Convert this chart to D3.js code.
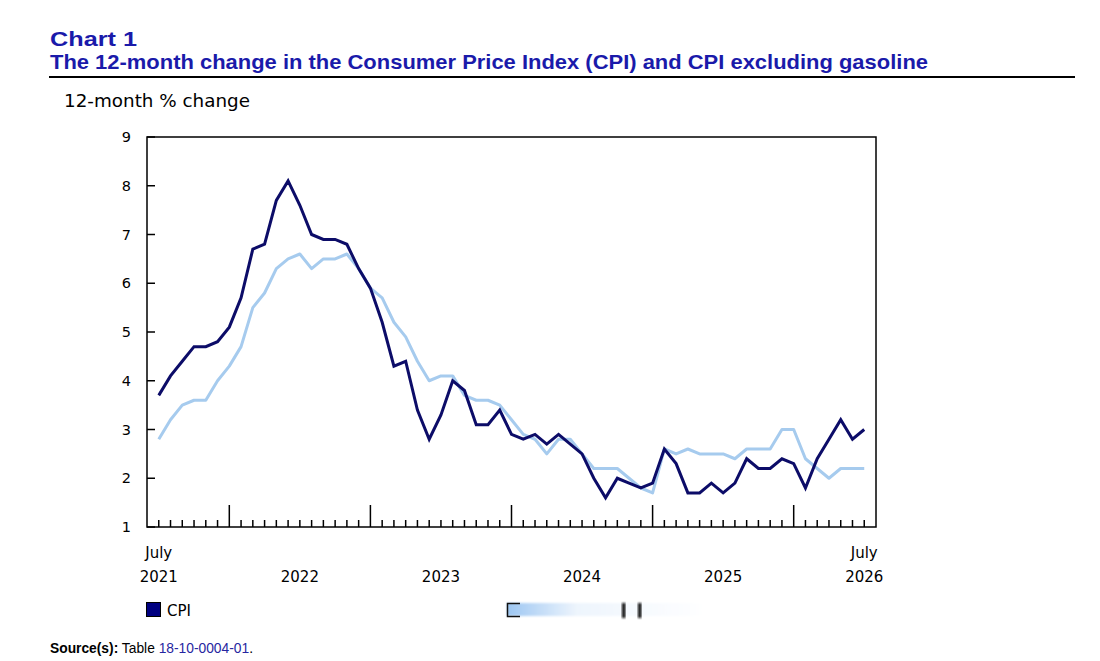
<!DOCTYPE html>
<html>
<head>
<meta charset="utf-8">
<script src="https://cdn.jsdelivr.net/npm/d3@7/dist/d3.min.js"></script>
<style>
  body { margin: 0; background: #fff; }
  svg { display: block; }
</style>
</head>
<body>
<svg id="chart" width="1100" height="661"></svg>
<script>
// 12-month % change, July 2021 to July 2026
const cpi = [
    3.7, 4.1, 4.4, 4.7, 4.7, 4.8,
    5.1, 5.7, 6.7, 6.8, 7.7, 8.1, 7.6, 7.0, 6.9, 6.9, 6.8, 6.3,
    5.9, 5.2, 4.3, 4.4, 3.4, 2.8, 3.3, 4.0, 3.8, 3.1, 3.1, 3.4,
    2.9, 2.8, 2.9, 2.7, 2.9, 2.7, 2.5, 2.0, 1.6, 2.0, 1.9, 1.8,
    1.9, 2.6, 2.3, 1.7, 1.7, 1.9, 1.7, 1.9, 2.4, 2.2, 2.2, 2.4,
    2.3, 1.8, 2.4, 2.8, 3.2, 2.8, 3.0
];
const cpiExGas = [
    2.8, 3.2, 3.5, 3.6, 3.6, 4.0,
    4.3, 4.7, 5.5, 5.8, 6.3, 6.5, 6.6, 6.3, 6.5, 6.5, 6.6, 6.3,
    5.9, 5.7, 5.2, 4.9, 4.4, 4.0, 4.1, 4.1, 3.7, 3.6, 3.6, 3.5,
    3.2, 2.9, 2.8, 2.5, 2.8, 2.8, 2.5, 2.2, 2.2, 2.2, 2.0, 1.8,
    1.7, 2.6, 2.5, 2.6, 2.5, 2.5, 2.5, 2.4, 2.6, 2.6, 2.6, 3.0,
    3.0, 2.4, 2.2, 2.0, 2.2, 2.2, 2.2
];
const months = d3.timeMonth.range(new Date(2021, 6, 1), new Date(2026, 7, 1));
const yTicks = [1, 2, 3, 4, 5, 6, 7, 8, 9];

const titleLines = ["Chart 1", "The 12-month change in the Consumer Price Index (CPI) and CPI excluding gasoline"];
const titleWidths = [87, 878];
const yTitle = "12-month % change";

const navy = "#0c0c68";
const light = "#a6cbee";
const titleBlue = "#1a1aaa";

const svg = d3.select("#chart");

// title block
svg.selectAll(".title")
    .data(titleLines)
    .join("text")
    .attr("class", "title")
    .attr("x", 50)
    .attr("y", (d, i) => 46 + i * 23)
    .attr("font-family", "Liberation Sans, Arial, sans-serif")
    .attr("font-weight", "bold")
    .attr("font-size", 21)
    .attr("fill", titleBlue)
    .attr("textLength", (d, i) => titleWidths[i])
    .attr("lengthAdjust", "spacingAndGlyphs")
    .text(d => d);

svg.append("line")
    .attr("x1", 49).attr("x2", 1075)
    .attr("y1", 77).attr("y2", 77)
    .attr("stroke", "#000").attr("stroke-width", 2);

svg.append("text")
    .attr("x", 64).attr("y", 107)
    .attr("font-family", "DejaVu Sans, Verdana, sans-serif")
    .attr("font-size", 17)
    .attr("textLength", 186)
    .attr("lengthAdjust", "spacingAndGlyphs")
    .attr("fill", "#000")
    .text(yTitle);

// plot area
const plot = { left: 147, right: 876, top: 137, bottom: 527 };

const x = d3.scaleLinear().domain([-1, months.length]).range([plot.left, plot.right]);
const y = d3.scaleLinear().domain([1, 9]).range([plot.bottom, plot.top]);

const axisFont = "DejaVu Sans, Verdana, sans-serif";

// y ticks (inward) + labels
svg.selectAll(".ytick")
    .data(yTicks)
    .join("line")
    .attr("class", "ytick")
    .attr("x1", plot.left).attr("x2", plot.left + 8)
    .attr("y1", d => y(d)).attr("y2", d => y(d))
    .attr("stroke", "#000").attr("stroke-width", 1.5);

svg.selectAll(".ylab")
    .data(yTicks)
    .join("text")
    .attr("class", "ylab")
    .attr("x", 131)
    .attr("y", d => y(d) + 5)
    .attr("text-anchor", "end")
    .attr("font-family", axisFont)
    .attr("font-size", 14.5)
    .text(d => d);

// x ticks: minor per month, major at January
svg.selectAll(".xtick")
    .data(months)
    .join("line")
    .attr("class", "xtick")
    .attr("x1", (d, i) => x(i)).attr("x2", (d, i) => x(i))
    .attr("y1", plot.bottom)
    .attr("y2", d => plot.bottom - (d.getMonth() === 0 ? 22 : 7))
    .attr("stroke", "#000").attr("stroke-width", 1.5);

const julys = months.map((d, i) => ({ d, i })).filter(o => o.d.getMonth() === 6);

svg.selectAll(".xyear")
    .data(julys)
    .join("text")
    .attr("class", "xyear")
    .attr("x", o => x(o.i))
    .attr("y", 582)
    .attr("text-anchor", "middle")
    .attr("font-family", axisFont)
    .attr("font-size", 15)
    .text(o => o.d.getFullYear());

svg.selectAll(".xmonth")
    .data([julys[0], julys[julys.length - 1]])
    .join("text")
    .attr("class", "xmonth")
    .attr("x", o => x(o.i))
    .attr("y", 558)
    .attr("text-anchor", "middle")
    .attr("font-family", axisFont)
    .attr("font-size", 15)
    .text("July");

// frame
svg.append("rect")
    .attr("x", plot.left).attr("y", plot.top)
    .attr("width", plot.right - plot.left)
    .attr("height", plot.bottom - plot.top)
    .attr("fill", "none")
    .attr("stroke", "#000").attr("stroke-width", 1.5);

// lines
const line = d3.line().x((d, i) => x(i)).y(d => y(d));

svg.append("path")
    .datum(cpiExGas)
    .attr("fill", "none")
    .attr("stroke", light)
    .attr("stroke-width", 3)
    .attr("stroke-linejoin", "round")
    .attr("d", line);

svg.append("path")
    .datum(cpi)
    .attr("fill", "none")
    .attr("stroke", navy)
    .attr("stroke-width", 3)
    .attr("stroke-linejoin", "miter")
    .attr("d", line);

// legend
svg.append("rect")
    .attr("x", 146.5).attr("y", 602.5)
    .attr("width", 14).attr("height", 14)
    .attr("fill", "#000080")
    .attr("stroke", "#000").attr("stroke-width", 1);

svg.append("text")
    .attr("x", 167).attr("y", 616)
    .attr("font-family", axisFont)
    .attr("font-size", 15)
    .text("CPI");

// second legend entry (as it appears, smeared)
const defs = svg.append("defs");
const grad = defs.append("linearGradient").attr("id", "fade");
grad.append("stop").attr("offset", "0%").attr("stop-color", "#9cc6f2");
grad.append("stop").attr("offset", "35%").attr("stop-color", "#eef5fd");
grad.append("stop").attr("offset", "100%").attr("stop-color", "#ffffff");
defs.append("filter").attr("id", "blur")
    .append("feGaussianBlur").attr("stdDeviation", 1.2);

svg.append("rect")
    .attr("x", 507).attr("y", 603)
    .attr("width", 200).attr("height", 13)
    .attr("fill", "url(#fade)")
    .attr("filter", "url(#blur)");

svg.append("path")
    .attr("d", "M520,603.5 H507.5 V616.5 H520")
    .attr("fill", "none")
    .attr("stroke", "#111").attr("stroke-width", 1.5);

svg.selectAll(".smear")
    .data([622, 638])
    .join("rect")
    .attr("class", "smear")
    .attr("x", d => d).attr("y", 603)
    .attr("width", 3.5).attr("height", 15)
    .attr("fill", "#111")
    .attr("filter", "url(#blur)");

// source
const src = svg.append("text")
    .attr("x", 50).attr("y", 653)
    .attr("font-family", "Liberation Sans, Arial, sans-serif")
    .attr("font-size", 13.8);
src.append("tspan").attr("font-weight", "bold").text("Source(s):");
src.append("tspan").text(" Table ");
src.append("tspan").attr("fill", "#2626a0").text("18-10-0004-01");
src.append("tspan").text(".");
</script>
</body>
</html>
